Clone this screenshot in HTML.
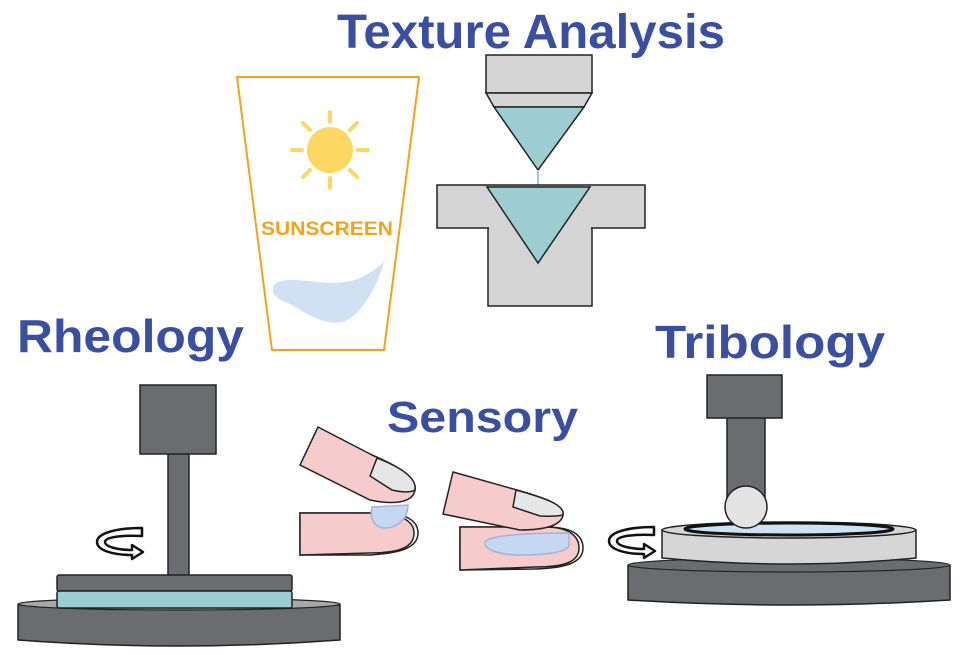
<!DOCTYPE html>
<html><head><meta charset="utf-8"><style>
html,body{margin:0;padding:0;background:#fff;width:961px;height:655px;overflow:hidden}
svg{display:block}
.t{font-family:"Liberation Sans",sans-serif;font-weight:bold;fill:#3b4fa1}
</style></head><body>
<svg width="961" height="655" viewBox="0 0 961 655" xmlns="http://www.w3.org/2000/svg">
<defs>
<g id="rot" fill="none" stroke="#111" stroke-width="2.5" stroke-linejoin="round">
<path d="M45,0 L45,8 C25,7 8,9 8,14 C8,19 22,22 35,22 L35,17 L46,24 L35,31 L35,27 C15,27 0,22 0,14 C0,5 20,0 45,0 Z" fill="#fff"/>
</g>
</defs>
<!-- Titles -->
<text class="t" x="337" y="48" font-size="48" textLength="388" lengthAdjust="spacingAndGlyphs">Texture Analysis</text>
<text class="t" x="17" y="352" font-size="46" textLength="227" lengthAdjust="spacingAndGlyphs">Rheology</text>
<text class="t" x="655" y="358" font-size="46" textLength="230" lengthAdjust="spacingAndGlyphs">Tribology</text>
<text class="t" x="387" y="432" font-size="44" textLength="191" lengthAdjust="spacingAndGlyphs">Sensory</text>

<!-- Sunscreen cup -->
<polygon points="237,77 419,77 384,350 272,350" fill="#fff" stroke="#f5a21b" stroke-width="2"/>
<g stroke="#fdd764" stroke-width="4" stroke-linecap="round">
<line x1="330" y1="112" x2="330" y2="122"/><line x1="330" y1="178" x2="330" y2="188"/>
<line x1="292" y1="150" x2="302" y2="150"/><line x1="358" y1="150" x2="368" y2="150"/>
<line x1="303" y1="123" x2="310" y2="130"/><line x1="350" y1="170" x2="357" y2="177"/>
<line x1="357" y1="123" x2="350" y2="130"/><line x1="310" y1="170" x2="303" y2="177"/>
</g>
<circle cx="330" cy="150" r="23" fill="#fdd764"/>
<text x="327" y="235" font-family="Liberation Sans,sans-serif" font-weight="bold" font-size="19" fill="#f5a21b" text-anchor="middle" textLength="132" lengthAdjust="spacingAndGlyphs">SUNSCREEN</text>
<path d="M278,282 C300,275 330,290 360,278 C372,272 380,266 384,262 C378,285 360,318 342,322 C320,326 300,308 285,302 C270,296 270,286 278,282 Z" fill="#cfe1f3"/>

<!-- Texture analyzer -->
<rect x="486" y="55" width="106" height="38" fill="#d4d4d4" stroke="#222" stroke-width="1.5"/>
<polygon points="486,93 592,93 584,107 494,107" fill="#d4d4d4" stroke="#222" stroke-width="1.5"/>
<polygon points="494,107 584,107 538,170" fill="#9ccdd1" stroke="#222" stroke-width="1.5"/>
<line x1="538" y1="170" x2="538" y2="186" stroke="#9ccdd1" stroke-width="2"/>
<rect x="488" y="228" width="104" height="78" fill="#d4d4d4" stroke="#222" stroke-width="1.5"/>
<rect x="437" y="185" width="208" height="43" fill="#d4d4d4" stroke="#222" stroke-width="1.5"/>
<rect x="489" y="227" width="102" height="3" fill="#d4d4d4"/>
<polygon points="487,187 590,187 538,263" fill="#9ccdd1" stroke="#222" stroke-width="1.5"/>

<!-- Rheology -->
<path d="M18,605 L18,640 Q179,652 340,640 L340,605 Z" fill="#6b6c70" stroke="#222" stroke-width="1.5"/>
<ellipse cx="179" cy="604" rx="161" ry="6" fill="#a9a9ab" stroke="#222" stroke-width="1.2"/>
<rect x="168" y="452" width="21" height="124" fill="#6b6c70" stroke="#222" stroke-width="1.5"/>
<rect x="140" y="385" width="76" height="69" fill="#6b6c70" stroke="#222" stroke-width="1.5"/>
<rect x="57" y="575" width="235" height="16" rx="2" fill="#6b6c70" stroke="#222" stroke-width="1.5"/>
<rect x="57" y="591" width="235" height="17" rx="2" fill="#9ccdd1" stroke="#222" stroke-width="1.5"/>
<use href="#rot" x="97" y="528"/>

<!-- Tribology -->
<path d="M628,566 L628,600 Q789,610 950,600 L950,566 Z" fill="#6b6c70" stroke="#222" stroke-width="1.5"/>
<ellipse cx="789" cy="565" rx="161" ry="7" fill="#6b6c70" stroke="#222" stroke-width="1.2"/>
<path d="M662,530 L662,558 Q789,570 916,558 L916,530 Z" fill="#d6d6d6" stroke="#222" stroke-width="1.5"/>
<ellipse cx="789" cy="530" rx="127" ry="8" fill="#d6d6d6" stroke="#222" stroke-width="1.5"/>
<ellipse cx="789" cy="529" rx="104" ry="6" fill="#cfe1f3" stroke="#111" stroke-width="3"/>
<rect x="727" y="416" width="38" height="88" fill="#6b6c70" stroke="#222" stroke-width="1.5"/>
<rect x="707" y="375" width="75" height="43" fill="#6b6c70" stroke="#222" stroke-width="1.5"/>
<circle cx="746" cy="507" r="21" fill="#e3e3e3" stroke="#222" stroke-width="1.5"/>
<use href="#rot" x="609" y="527"/>

<!-- Sensory: left pair -->
<g stroke="#222" stroke-width="1.5">
<path d="M300,513 L380,513 C405,513 418,520 418,533 C418,548 400,553 370,555 L300,555 Z" fill="#fff"/>
<path d="M300,513 L375,513 C398,513 414,520 414,533 C414,548 398,553 370,553 L300,555 Z" fill="#f5cbcb"/>
<path d="M372,507 L408,505 C408,520 396,528 385,528 C372,528 370,515 372,507 Z" fill="#c5d8f0" stroke="#9fb4dd"/>
<path d="M318,427 L372,455 C400,467 417,478 415,490 C413,503 393,505 370,500 L300,465 Z" fill="#f5cbcb"/>
<path d="M377,458 C400,467 417,478 415,490 C410,493 400,492 392,490 L370,476 Z" fill="#e6e6e6"/>
</g>
<!-- Sensory: right pair -->
<g stroke="#222" stroke-width="1.5">
<path d="M460,527 L545,527 C575,527 583,537 583,548 C583,563 565,568 535,569 L460,570 Z" fill="#fff"/>
<path d="M460,527 L545,527 C570,527 579,537 579,548 C579,563 562,567 535,567 L460,570 Z" fill="#f5cbcb"/>
<path d="M453,472 L517,490 C545,498 565,505 563,515 C561,527 540,530 520,530 L443,514 Z" fill="#f5cbcb"/>
<path d="M516,490 C545,498 565,505 563,515 C555,517 545,516 540,516 L513,507 Z" fill="#e6e6e6"/>
<path d="M485,543 C485,536 520,533 569,533 L569,545 C569,553 540,555 520,555 C500,555 485,550 485,543 Z" fill="#c5d8f0" stroke="#9fb4dd"/>
</g>
</svg>
</body></html>
